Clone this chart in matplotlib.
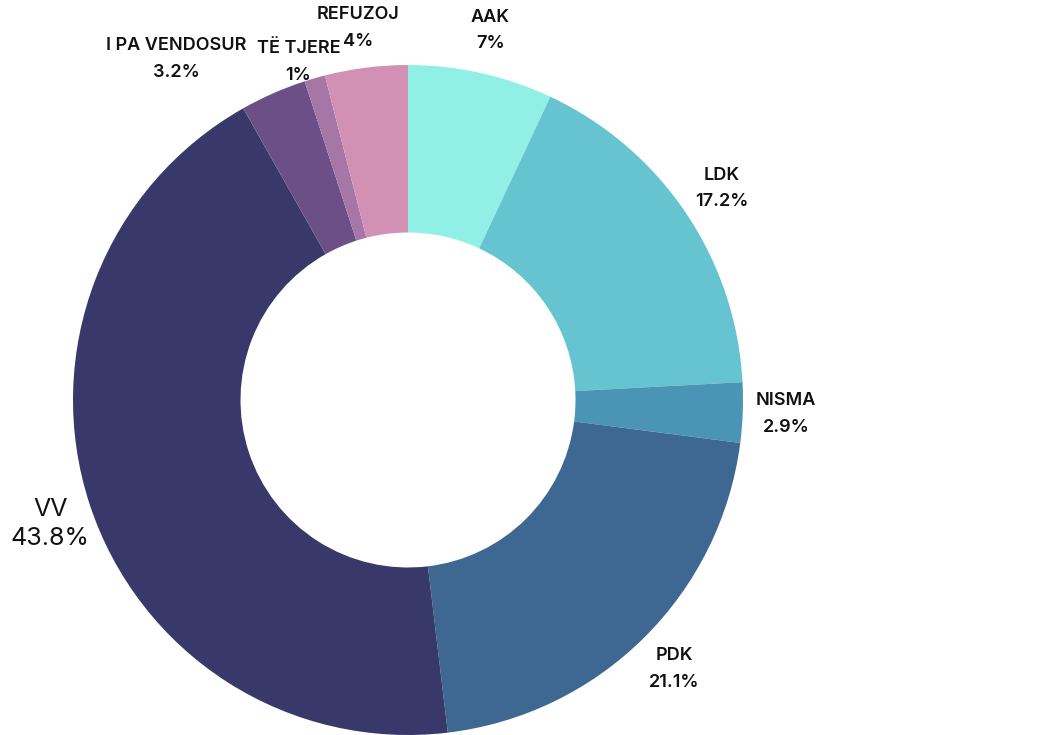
import numpy as np
import matplotlib
matplotlib.use("Agg")
import matplotlib.pyplot as plt

parties = ["AAK", "LDK", "NISMA", "PDK", "VV", "I PA VENDOSUR", "TË TJERE", "REFUZOJ"]
shares = [7, 17.2, 2.9, 21.1, 43.8, 3.2, 1, 4]
pct_labels = ["7%", "17.2%", "2.9%", "21.1%", "43.8%", "3.2%", "1%", "4%"]
colors = ["#90f0e6", "#66c4d1", "#4a95b6", "#3e6892", "#38386a",
          "#6b4f86", "#a576a6", "#d291b4"]

# label placement tweaks (distance in radii, extra angle in degrees)
label_dist = [1.13, 1.13, 1.13, 1.13, 1.13, 1.23, 1.06, 1.12]
label_shift = [0, 0, 0, 0, 1.0, 10.5, 1.8, 0.5]

plt.rcParams['font.family'] = ['Inter', 'DejaVu Sans']

fig = plt.figure(figsize=(10.54, 7.35), dpi=100)
ax = fig.add_axes([0, 0, 1, 1])

wedges, _ = ax.pie(shares, colors=colors, startangle=90, counterclock=False,
                   radius=1.0, wedgeprops=dict(width=0.5, linewidth=0))

total = sum(shares)
start = 90.0
for i, w in enumerate(wedges):
    span = shares[i] / total * 360
    mid = start - span / 2 + label_shift[i]
    start -= span
    x = label_dist[i] * np.cos(np.radians(mid))
    y = label_dist[i] * np.sin(np.radians(mid))
    if parties[i] == "VV":
        ax.text(x, y, parties[i] + "\n" + pct_labels[i], ha="center", va="center",
                fontsize=18, linespacing=1.3, color="#111111")
    else:
        ax.text(x, y, parties[i] + "\n" + pct_labels[i], ha="center", va="center",
                fontsize=13, fontweight="semibold", linespacing=1.75, color="#111111")

ax.set_xlim(-408 / 335, (1054 - 408) / 335)
ax.set_ylim(-1.0, 400 / 335)
ax.set_aspect("auto")
ax.axis("off")

fig.savefig("out.png", dpi=100, facecolor="white")
